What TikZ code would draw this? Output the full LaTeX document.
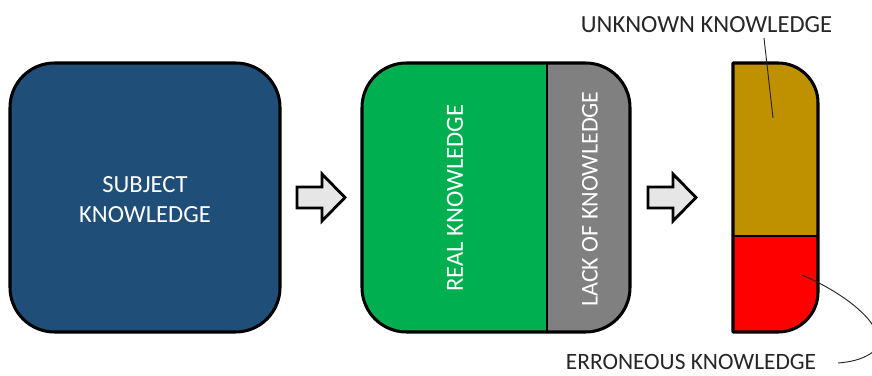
\documentclass[tikz,border=0pt]{standalone}
\usepackage{fontspec}
\setmainfont{Carlito}
\definecolor{navy}{HTML}{1F4E79}
\definecolor{grn}{HTML}{00B050}
\definecolor{gry}{HTML}{808080}
\definecolor{gold}{HTML}{BF9000}
\definecolor{arrfill}{HTML}{E6E6E6}
\begin{document}
\begin{tikzpicture}[x=0.03cm,y=-0.03cm,
  outline/.style={draw=black,line width=2.6pt,line join=round},
  inner/.style={draw=black,line width=2.2pt},
  wtext/.style={text=white,font=\fontsize{21}{25.5}\selectfont,align=center,inner sep=0pt},
  ktext/.style={text=black!85,font=\fontsize{21}{25}\selectfont,inner sep=0pt},
  bigarrow/.style={draw=black,line width=2.4pt,fill=arrfill,line join=miter},
  lead/.style={draw=black!85,line width=0.8pt}]
\useasboundingbox (0,0) rectangle (872,376);
\begin{scope}
\clip (0,0) rectangle (872,376);
% box 1
\draw[outline,fill=navy,rounded corners=38pt] (10,63) rectangle (280,332);
\node[wtext] (subj) at (145,200) {SUBJECT\\KNOWLEDGE};
% arrow 1
\draw[bigarrow] (297,187) -- (322,187) -- (322,174) -- (345,197.5) -- (322,221) -- (322,208) -- (297,208) -- cycle;
% box 2
\fill[gry,rounded corners=38pt] (362,63) rectangle (630,332);
\begin{scope}
\clip (300,0) rectangle (547,376);
\fill[grn,rounded corners=38pt] (362,63) rectangle (630,332);
\end{scope}
\draw[inner] (547,63) -- (547,332);
\draw[outline,rounded corners=38pt] (362,63) rectangle (630,332);
\node[wtext,rotate=90] (real) at (455,198) {REAL KNOWLEDGE};
\node[wtext,rotate=90,font=\fontsize{20.5}{25}\selectfont] (lack) at (590,199) {LACK OF KNOWLEDGE};
% arrow 2
\draw[bigarrow] (648,187) -- (673,187) -- (673,174) -- (696,197.5) -- (673,221) -- (673,208) -- (648,208) -- cycle;
% box 3
\fill[gold] (733,332) -- (733,63) -- (778,63) arc[start angle=-90,end angle=0,radius=40] -- (818,292) arc[start angle=0,end angle=90,radius=40] -- cycle;
\begin{scope}
\clip (700,236) rectangle (872,376);
\fill[red] (733,332) -- (733,63) -- (778,63) arc[start angle=-90,end angle=0,radius=40] -- (818,292) arc[start angle=0,end angle=90,radius=40] -- cycle;
\end{scope}
\draw[inner] (733,236) -- (818,236);
\draw[outline] (733,332) -- (733,63) -- (778,63) arc[start angle=-90,end angle=0,radius=40] -- (818,292) arc[start angle=0,end angle=90,radius=40] -- cycle;
% labels
\node[ktext] (unk) at (706.5,24.5) {UNKNOWN KNOWLEDGE};
\node[ktext,anchor=base,font=\fontsize{20}{24}\selectfont] (err) at (691,369) {ERRONEOUS KNOWLEDGE};
\coordinate (p1) at (773,118);
\coordinate (p2) at (802,275);
\draw[lead] (764,38) -- (p1);
\draw[lead] (p2) .. controls (860,300) and (895,338) .. (870,354) .. controls (860,360) and (850,362) .. (838,363);
\end{scope}
\end{tikzpicture}
\end{document}
